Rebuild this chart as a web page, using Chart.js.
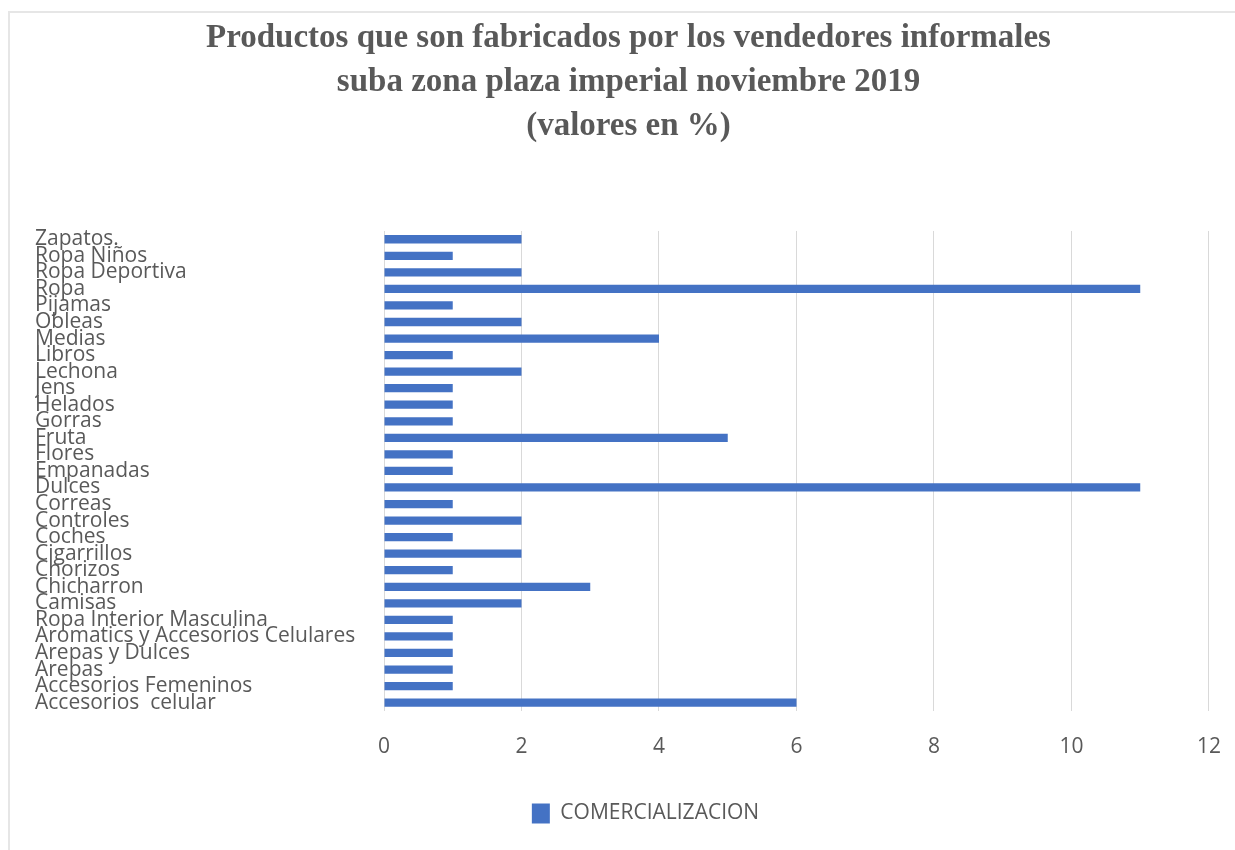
<!DOCTYPE html>
<html>
<head>
<meta charset="utf-8">
<script src="https://cdn.jsdelivr.net/npm/chart.js@4.4.0/dist/chart.umd.min.js"></script>
<style>
  body { margin: 0; background: #fff; }
  #frame { position: absolute; left: 8px; top: 11px; width: 1227px; height: 839px;
           border-top: 2px solid #e6e6e6; border-left: 2px solid #e6e6e6; }
  #wrap { position: absolute; left: 0; top: 0; width: 1235px; height: 850px; }
</style>
</head>
<body>
<div id="frame"></div>
<div id="wrap"><canvas id="chart_1" width="1235" height="850"></canvas></div>
<script>
var productos = [
	"Zapatos.", "Ropa Niños", "Ropa Deportiva", "Ropa", "Pijamas", "Obleas", "Medias",
	"Libros", "Lechona", "Jens", "Helados", "Gorras", "Fruta", "Flores", "Empanadas",
	"Dulces", "Correas", "Controles", "Coches", "Cigarrillos", "Chorizos", "Chicharron",
	"Camisas", "Ropa Interior Masculina", "Aromatics y Accesorios Celulares",
	"Arepas y Dulces", "Arepas", "Accesorios Femeninos", "Accesorios  celular"
];
var comercializacion = [
	2, 1, 2, 11, 1, 2, 4,
	1, 2, 1, 1, 1, 5, 1, 1,
	11, 1, 2, 1, 2, 1, 3,
	2, 1, 1,
	1, 1, 1, 6
];
var titulo = [
	"Productos que son fabricados por los vendedores informales",
	"suba zona plaza imperial noviembre 2019",
	"(valores en %)"
];
var gris = "#595959";

var data = {
	labels : productos,
	datasets : [ {
		label : "COMERCIALIZACION",
		data : comercializacion,
		backgroundColor : "#4472C4",
		borderWidth : 0,
		barPercentage : 0.5,
		categoryPercentage : 1.0
	}]
};

// the legend sits a little right of centre in the original
var moveLegend = {
	id : 'moveLegend',
	afterLayout : function(chart) {
		chart.legend.left += 17;
		chart.legend.right += 17;
	}
};

var option = {
	responsive : false,
	animation : false,
	indexAxis : 'y',
	layout : { padding : { left : 35, right : 13, top : 0, bottom : 16 } },
	plugins : {
		title : {
			display : true,
			text : titulo,
			color : gris,
			font : { family : "Liberation Serif", size : 33, weight : "bold", lineHeight : 1.333 },
			padding : { top : 16, bottom : 83 }
		},
		legend : {
			position : 'bottom',
			labels : {
				color : gris,
				font : { family : "Open Sans", size : 21 },
				boxWidth : 18,
				boxHeight : 20,
				padding : 12
			}
		},
		tooltip : { enabled : false }
	},
	scales : {
		x : {
			min : 0,
			max : 12,
			ticks : { stepSize : 2, color : gris, padding : 14, font : { family : "Open Sans", size : 21, lineHeight : 2.1 } },
			grid : { color : "#d9d9d9", lineWidth : 1, drawTicks : false },
			border : { display : false },
			afterFit : function(scale) { scale.height += 8; }
		},
		y : {
			grid : { display : false },
			border : { display : false },
			ticks : {
				autoSkip : false,
				crossAlign : 'far',
				color : gris,
				font : { family : "Open Sans", size : 21, lineHeight : 1 }
			},
			afterFit : function(scale) { scale.width = 349; }
		}
	}
};

new Chart('chart_1', { type : 'bar', data : data, options : option, plugins : [moveLegend] });
</script>
</body>
</html>
